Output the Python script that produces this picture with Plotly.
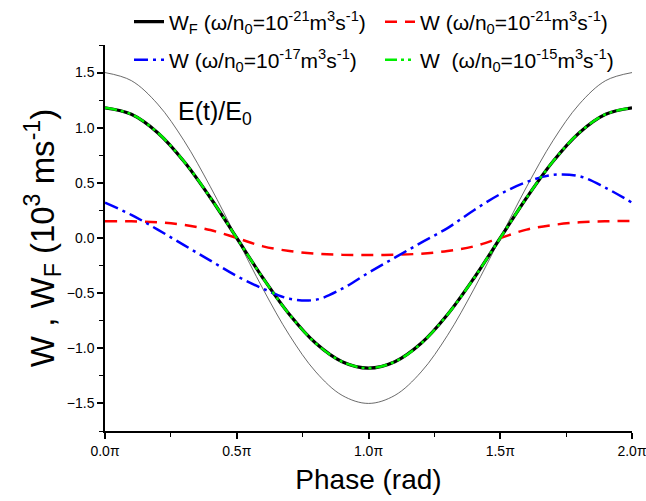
import plotly.graph_objects as go

# Phase in units of pi
phase = [0.0, 0.1, 0.2, 0.3, 0.4, 0.5, 0.6, 0.7, 0.8, 0.9, 1.0,
         1.1, 1.2, 1.3, 1.4, 1.5, 1.6, 1.7, 1.8, 1.9, 2.0]

e_field = [1.50, 1.427, 1.214, 0.882, 0.464, 0.0, -0.464, -0.882, -1.214, -1.427, -1.50,
           -1.427, -1.214, -0.882, -0.464, 0.0, 0.464, 0.882, 1.214, 1.427, 1.50]

w_f_21 = [1.18, 1.122, 0.955, 0.694, 0.365, 0.0, -0.365, -0.694, -0.955, -1.122, -1.18,
          -1.122, -0.955, -0.694, -0.365, 0.0, 0.365, 0.694, 0.955, 1.122, 1.18]

w_21 = [0.153, 0.151, 0.143, 0.118, 0.072, 0.0, -0.076, -0.118, -0.142, -0.152, -0.155,
        -0.152, -0.142, -0.118, -0.076, 0.0, 0.076, 0.118, 0.142, 0.152, 0.155]

w_17 = [0.32, 0.21, 0.076, -0.065, -0.205, -0.345, -0.46, -0.55, -0.56, -0.46, -0.315,
        -0.178, -0.042, 0.09, 0.252, 0.398, 0.508, 0.572, 0.56, 0.455, 0.32]

w_15 = [1.18, 1.122, 0.955, 0.694, 0.365, 0.0, -0.365, -0.694, -0.955, -1.122, -1.18,
        -1.122, -0.955, -0.694, -0.365, 0.0, 0.365, 0.694, 0.955, 1.122, 1.18]

x_tickvals = [0.0, 0.5, 1.0, 1.5, 2.0]
x_ticktext = ["0.0\u03c0", "0.5\u03c0", "1.0\u03c0", "1.5\u03c0", "2.0\u03c0"]
y_tickvals = [-1.5, -1.0, -0.5, 0.0, 0.5, 1.0, 1.5]

FONT = "Arial, Liberation Sans, sans-serif"

fig = go.Figure()

fig.add_trace(go.Scatter(x=phase, y=e_field, mode="lines", showlegend=False,
                         line=dict(color="#444444", width=0.8, shape="spline")))
fig.add_trace(go.Scatter(x=phase, y=w_f_21, mode="lines", legend="legend",
                         name="W<sub>F</sub> (\u03c9/n<sub>0</sub>=10<sup>-21</sup>m<sup>3</sup>s<sup>-1</sup>)",
                         line=dict(color="black", width=3.2, shape="spline")))
fig.add_trace(go.Scatter(x=phase, y=w_21, mode="lines", legend="legend",
                         name="W (\u03c9/n<sub>0</sub>=10<sup>-21</sup>m<sup>3</sup>s<sup>-1</sup>)",
                         line=dict(color="#ff0000", width=2.5, dash="12px,8px", shape="spline")))
fig.add_trace(go.Scatter(x=phase, y=w_17, mode="lines", legend="legend2",
                         name="W (\u03c9/n<sub>0</sub>=10<sup>-17</sup>m<sup>3</sup>s<sup>-1</sup>)",
                         line=dict(color="#0000ff", width=2.5, dash="14px,5px,3px,5px", shape="spline")))
fig.add_trace(go.Scatter(x=phase, y=w_15, mode="lines", legend="legend2",
                         name="W  (\u03c9/n<sub>0</sub>=10<sup>-15</sup>m<sup>3</sup>s<sup>-1</sup>)",
                         line=dict(color="#00ee00", width=2.5, dash="12px,4px,3px,4px,3px,4px", shape="spline")))

fig.add_annotation(x=0.268, y=1.13, xref="x", yref="y", text="E(t)/E<sub>0</sub>",
                   showarrow=False, xanchor="left", yanchor="middle",
                   font=dict(size=25, color="black", family=FONT))

legend_common = dict(orientation="h", font=dict(size=21, color="black", family=FONT),
                     bgcolor="rgba(0,0,0,0)", entrywidth=206, entrywidthmode="pixels",
                     xref="paper", yref="container", xanchor="left", yanchor="middle",
                     itemwidth=30, tracegroupgap=0, borderwidth=0)
fig.update_layout(
    width=646, height=501,
    margin=dict(l=105, r=14, t=45, b=70, autoexpand=False),
    paper_bgcolor="white", plot_bgcolor="white",
    font=dict(family=FONT, color="black"),
    legend=dict(x=(129 - 105) / 527, y=1 - 22 / 501, **legend_common),
    legend2=dict(x=(129 - 105) / 527, y=1 - 60 / 501, **legend_common),
    xaxis=dict(range=[0, 2], tickvals=x_tickvals, ticktext=x_ticktext, ticklabeloverflow="allow",
               showgrid=False, zeroline=False, showline=True, linecolor="black", linewidth=1.5,
               ticks="outside", ticklen=6, tickwidth=1.5, tickcolor="black",
               minor=dict(dtick=0.25, ticks="outside", ticklen=4, tickwidth=1.2, tickcolor="black"),
               tickfont=dict(size=14, family=FONT),
               title=dict(text="Phase (rad)", font=dict(size=28, family=FONT), standoff=12)),
    yaxis=dict(range=[-1.75, 1.75], tickvals=y_tickvals, tickformat=".1f",
               showgrid=False, zeroline=False, showline=True, linecolor="black", linewidth=1.5,
               ticks="outside", ticklen=6, tickwidth=1.5, tickcolor="black",
               minor=dict(dtick=0.25, ticks="outside", ticklen=4, tickwidth=1.2, tickcolor="black"),
               tickfont=dict(size=14, family=FONT),
               title=dict(text="W , W<sub>F</sub> (10<sup>3</sup> ms<sup>-1</sup>)",
                          font=dict(size=33, family=FONT), standoff=2)),
)

fig.write_html("out.html")
